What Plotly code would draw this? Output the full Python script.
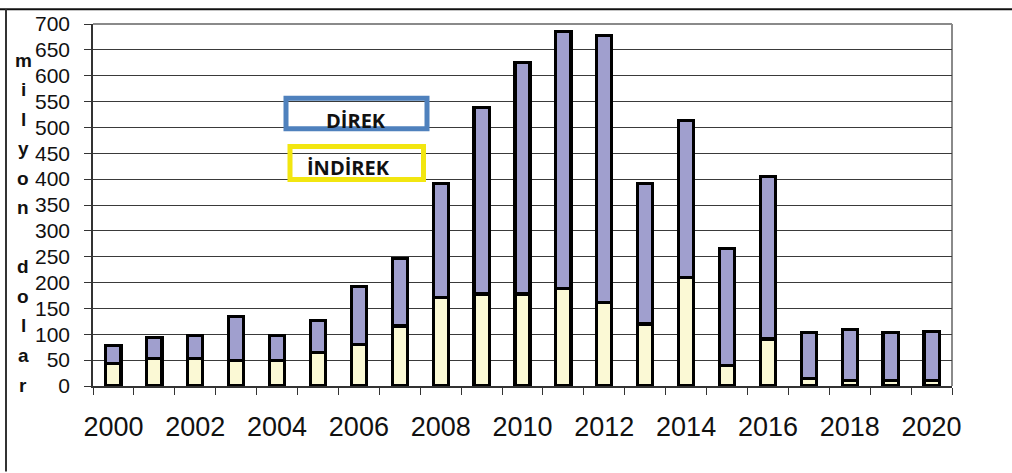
import plotly.graph_objects as go

years = list(range(2000, 2021))
indirect = [44, 53, 53, 49, 50, 65, 81, 116, 171, 178, 178, 189, 161, 120, 210, 39, 91, 14, 11, 11, 11]
total = [78, 94, 98, 135, 98, 126, 193, 247, 392, 538, 625, 686, 677, 392, 513, 266, 405, 104, 109, 104, 106]
direct = [t - i for t, i in zip(total, indirect)]
tick_years = list(range(2000, 2021, 2))
y_title = "milyon dolar"
legend_direct = "DİREK"
legend_indirect = "İNDİREK"

W, H = 1012, 473
L, R, T, B = 93, 60, 18, 87
pw, ph = W - L - R, H - T - B


def px(x):
    return (x - L) / pw


def py(y):
    return (H - B - y) / ph


fig = go.Figure()
fig.add_trace(go.Bar(x=years, y=indirect, name=legend_indirect, width=0.37,
                     marker=dict(color="#FBF9D5", line=dict(color="#000000", width=3.2))))
fig.add_trace(go.Bar(x=years, y=direct, name=legend_direct, width=0.37,
                     marker=dict(color="#A09FCE", line=dict(color="#000000", width=3.2))))

shapes = []
# figure frame lines (top and left)
shapes.append(dict(type="line", xref="paper", yref="paper", x0=px(0), x1=px(W), y0=py(3), y1=py(3),
                   line=dict(color="#111111", width=2)))
shapes.append(dict(type="line", xref="paper", yref="paper", x0=px(6), x1=px(6), y0=py(3), y1=py(H),
                   line=dict(color="#333333", width=2)))
# plot area top and right borders
shapes.append(dict(type="line", xref="paper", yref="paper", x0=0, x1=1, y0=1, y1=1,
                   line=dict(color="#8a8a8a", width=2), layer="below"))
shapes.append(dict(type="line", xref="paper", yref="paper", x0=1, x1=1, y0=0, y1=1,
                   line=dict(color="#8a8a8a", width=2), layer="below"))
# legend boxes
shapes.append(dict(type="rect", xref="paper", yref="paper", x0=px(286), x1=px(427), y0=py(93.5), y1=py(124.5),
                   line=dict(color="#4F81BD", width=5), fillcolor="rgba(255,255,255,0)"))
shapes.append(dict(type="rect", xref="paper", yref="paper", x0=px(290), x1=px(423.5), y0=py(142.5), y1=py(176),
                   line=dict(color="#F2E610", width=5), fillcolor="rgba(255,255,255,0)"))

annotations = [
    dict(text=legend_direct, xref="paper", yref="paper", x=px(356), y=py(116), showarrow=False,
         xanchor="center", yanchor="middle",
         font=dict(family="Open Sans", size=20, weight="bold", color="#111111")),
    dict(text=legend_indirect, xref="paper", yref="paper", x=px(348), y=py(164), showarrow=False,
         xanchor="center", yanchor="middle",
         font=dict(family="Open Sans", size=20, weight="bold", color="#111111")),
]
for k, ch in enumerate(y_title):
    if ch == " ":
        continue
    annotations.append(dict(text="<b>" + ch + "</b>", xref="paper", yref="paper", x=px(23), y=py(55 + 30 * k),
                            showarrow=False, xanchor="center", yanchor="middle",
                            font=dict(family="Liberation Sans, Arial", size=19, color="#111111")))

fig.update_layout(
    barmode="stack",
    width=W, height=H,
    margin=dict(l=L, r=R, t=T, b=B, pad=0),
    paper_bgcolor="white", plot_bgcolor="white",
    showlegend=False,
    shapes=shapes,
    annotations=annotations,
    xaxis=dict(range=[1999.5, 2020.5], tickmode="array", tickvals=tick_years,
               ticktext=[str(y) for y in tick_years], ticks="", showgrid=False,
               showline=True, linecolor="#333333", linewidth=1.5,
               tickfont=dict(family="Liberation Sans, Arial", size=27, color="#111111"),
               ticklabelstandoff=16,
               minor=dict(tick0=1999.5, dtick=1, ticks="outside", ticklen=7, tickcolor="#333333",
                          tickwidth=1, showgrid=False),
               zeroline=False, fixedrange=True),
    yaxis=dict(range=[0, 700], tickmode="linear", tick0=0, dtick=50, ticks="outside", ticklen=7,
               tickcolor="#333333", showgrid=True, gridcolor="#3a3a3a", gridwidth=1,
               showline=True, linecolor="#333333", linewidth=1.5, zeroline=False,
               tickfont=dict(family="Liberation Sans, Arial", size=21, color="#111111"),
               ticklabelstandoff=10),
)

fig.write_html("out.html", config={"displayModeBar": False},
               post_script="document.body.style.margin='0';")
